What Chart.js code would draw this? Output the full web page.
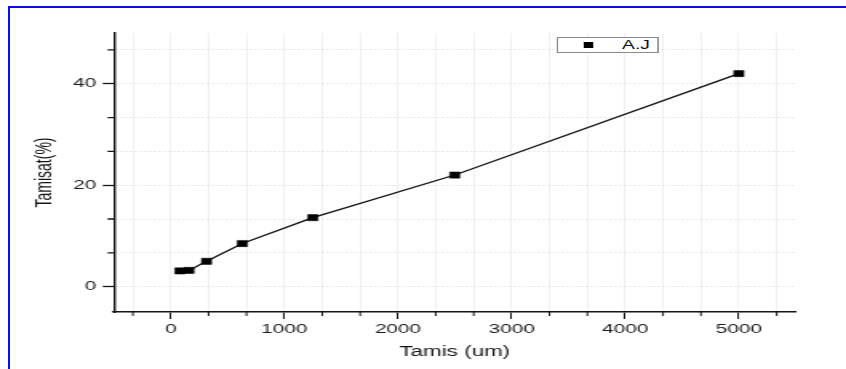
<!DOCTYPE html>
<html>
<head>
<meta charset="utf-8">
<title>Tamisat</title>
<script src="https://cdn.jsdelivr.net/npm/chart.js@4.4.1/dist/chart.umd.min.js"></script>
<style>
  html, body { margin: 0; padding: 0; background: #fff; }
  .frame { position: relative; width: 846px; height: 369px; overflow: hidden; }
  /* the source figure is stretched horizontally, so the plot is drawn narrow and scaled */
  .stretch { position: absolute; left: 0; top: 0; width: 529px; height: 369px; transform: scaleX(1.5992); transform-origin: 0 0; }
  .edge-top { position: absolute; left: 8px; top: 6px; right: 0; height: 2px; background: #0b0bf5; }
  .edge-left { position: absolute; left: 8px; top: 6px; bottom: 0; width: 2px; background: #0b0bf5; }
  .legend { position: absolute; left: 348px; top: 37px; width: 64px; height: 16px; box-sizing: border-box;
            border: 1px solid #8a8a8a; background: #fff; font: 12px "Liberation Sans", Arial, sans-serif; color: #111; }
  .legend .mark { position: absolute; left: 16px; top: 4px; width: 6px; height: 6px; background: #000; }
  .legend .txt { position: absolute; left: 40px; top: 0; line-height: 14px; }
</style>
</head>
<body>
<div class="frame">
  <div class="stretch">
    <canvas id="chartTamis"></canvas>
    <div class="legend" id="legendTamis"><span class="mark"></span><span class="txt"></span></div>
  </div>
  <div class="edge-top"></div>
  <div class="edge-left"></div>
</div>
<script>
(function () {
  const sieveSizes = [80, 160, 315, 630, 1250, 2500, 5000];
  const passingPct = [3.1, 3.2, 5.0, 8.5, 13.6, 22.0, 42.0];
  const seriesLabel = 'A.J';

  const xTickLabels = [0, 1000, 2000, 3000, 4000, 5000];
  const yTickLabels = [0, 20, 40];

  const inkColor = '#151515';
  const labelColor = '#1c1c1c';

  const majorOf = (v, majors) => majors.find(m => Math.abs(m - v) < 1e-6);
  const isMajor = (v, majors) => majorOf(v, majors) !== undefined;

  // Origin style: two minor ticks between each labelled one
  function thirdTicks(majors) {
    return scale => {
      const step = (majors[1] - majors[0]) / 3;
      const ticks = [];
      for (let k = Math.ceil(scale.min / step - 1e-9); k * step <= scale.max + 1e-9; k++) {
        ticks.push({ value: Math.round(k * step * 1e6) / 1e6 });
      }
      scale.ticks = ticks;
    };
  }

  const minorTicks = {
    id: 'minorTicks',
    afterDraw(chart) {
      const { ctx, chartArea, scales } = chart;
      ctx.save();
      ctx.strokeStyle = inkColor;
      ctx.beginPath();
      ctx.lineWidth = 1;
      scales.x.ticks.forEach(t => {
        if (isMajor(t.value, xTickLabels)) return;
        const px = scales.x.getPixelForValue(t.value);
        ctx.moveTo(px, chartArea.bottom);
        ctx.lineTo(px, chartArea.bottom + 4);
      });
      ctx.stroke();
      ctx.beginPath();
      ctx.lineWidth = 1.3;
      scales.y.ticks.forEach(t => {
        if (isMajor(t.value, yTickLabels)) return;
        const py = scales.y.getPixelForValue(t.value);
        ctx.moveTo(chartArea.left, py);
        ctx.lineTo(chartArea.left - 4, py);
      });
      ctx.stroke();
      ctx.restore();
    }
  };

  Chart.defaults.font.family = '"Liberation Sans", Arial, sans-serif';
  Chart.defaults.color = labelColor;

  const canvas = document.getElementById('chartTamis');
  const chart = new Chart(canvas, {
    type: 'line',
    data: {
      datasets: [{
        label: seriesLabel,
        data: sieveSizes.map((s, i) => ({ x: s, y: passingPct[i] })),
        borderColor: '#111',
        borderWidth: 1.3,
        pointStyle: 'rect',
        pointRadius: 4.4,
        pointBackgroundColor: '#000',
        pointBorderColor: '#000',
        pointBorderWidth: 0.5,
        tension: 0
      }]
    },
    options: {
      responsive: true,
      maintainAspectRatio: false,
      animation: false,
      layout: { padding: { left: 20, top: 33, right: 31.5, bottom: 0 } },
      plugins: { legend: { display: false }, tooltip: { enabled: false } },
      scales: {
        x: {
          type: 'linear',
          min: -500,
          max: 5500,
          afterBuildTicks: thirdTicks(xTickLabels),
          afterFit: s => { s.height = 57; },
          ticks: {
            autoSkip: false,
            maxRotation: 0,
            padding: 3,
            color: labelColor,
            font: { size: 13 },
            callback: v => { const m = majorOf(v, xTickLabels); return m === undefined ? '' : String(m); }
          },
          grid: {
            color: 'rgba(0,0,0,0.06)',
            lineWidth: 1,
            tickLength: 7,
            tickWidth: 1,
            tickColor: c => (c.tick && isMajor(c.tick.value, xTickLabels)) ? inkColor : 'rgba(0,0,0,0)'
          },
          border: { color: inkColor, width: 1.6 },
          title: { display: true, text: 'Tamis (um)', color: inkColor, font: { size: 14 }, padding: { top: 2, bottom: 8 } }
        },
        y: {
          min: -5,
          max: 50,
          afterBuildTicks: thirdTicks(yTickLabels),
          afterFit: s => { s.width = 51.25; },
          ticks: {
            autoSkip: false,
            padding: 4,
            color: labelColor,
            font: { size: 13 },
            callback: v => { const m = majorOf(v, yTickLabels); return m === undefined ? '' : String(m); }
          },
          grid: {
            color: 'rgba(0,0,0,0.16)',
            lineWidth: 1,
            tickLength: 7,
            tickWidth: 1.3,
            tickColor: c => (c.tick && isMajor(c.tick.value, yTickLabels)) ? inkColor : 'rgba(0,0,0,0)'
          },
          border: { color: inkColor, width: 1.4, dash: [1, 2] },
          title: { display: true, text: 'Tamisat(%)', color: inkColor, font: { size: 14 }, padding: 0 }
        }
      }
    },
    plugins: [minorTicks]
  });

  const legend = document.getElementById('legendTamis');
  legend.querySelector('.txt').textContent = chart.data.datasets[0].label;
})();
</script>
</body>
</html>
